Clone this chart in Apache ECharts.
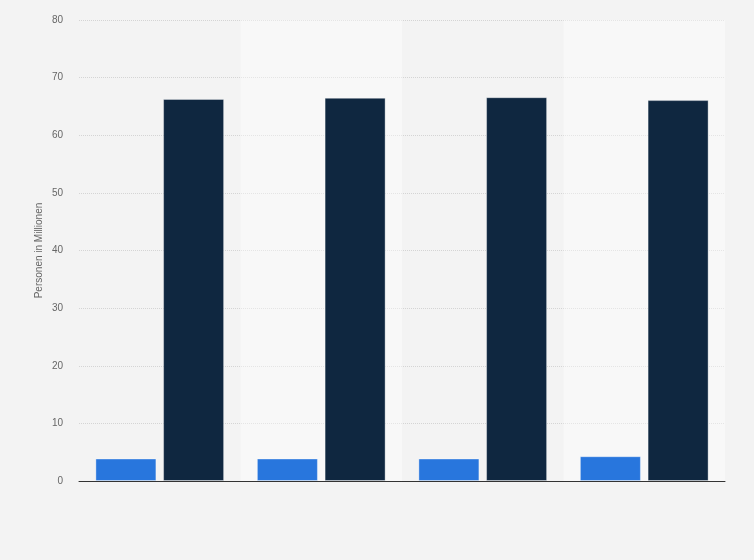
<!DOCTYPE html>
<html>
<head>
<meta charset="utf-8">
<script src="https://cdn.jsdelivr.net/npm/echarts@6/dist/echarts.min.js"></script>
<style>
  html, body { margin: 0; padding: 0; background: #f3f3f3; }
  #mainChart { width: 754px; height: 560px; }
</style>
</head>
<body>
<div id="mainChart"></div>
<script>
// categories have no visible labels in the picture
var categories = ['', ' ', '  ', '   '];
var smallSeries = [3.9, 3.9, 3.9, 4.3];
var bigSeries = [66.3, 66.5, 66.6, 66.1];
var yTicks = [0, 10, 20, 30, 40, 50, 60, 70, 80];

var myChart = echarts.init(document.getElementById('mainChart'));

var option = {
    backgroundColor: '#f3f3f3',
    animation: false,
    grid: { left: 79, right: 29, top: 20, bottom: 79 },
    xAxis: {
        type: 'category',
        data: categories,
        axisLine: { lineStyle: { color: '#333333', width: 1 } },
        axisTick: { show: false },
        axisLabel: { show: false },
        splitArea: {
            show: true,
            areaStyle: { color: ['rgba(255,255,255,0)', 'rgba(255,255,255,0.4)'] }
        }
    },
    yAxis: {
        type: 'value',
        min: yTicks[0],
        max: yTicks[yTicks.length - 1],
        interval: 10,
        name: 'Personen in Millionen',
        nameLocation: 'middle',
        nameGap: 35,
        nameMoveOverlap: false,
        nameTextStyle: { color: '#666666', fontSize: 10, fontFamily: 'Arial, Liberation Sans, sans-serif' },
        axisLine: { show: false },
        axisTick: { show: false },
        axisLabel: { color: '#666666', fontSize: 10, margin: 16, fontFamily: 'Arial, Liberation Sans, sans-serif' },
        splitLine: { lineStyle: { color: '#d4d4d4', type: 'dotted', width: 1 } }
    },
    series: [
        {
            name: 'series1', type: 'bar', data: smallSeries,
            barWidth: 61, barGap: '11%',
            itemStyle: { color: '#2876dd', borderColor: 'rgba(255,255,255,0.35)', borderWidth: 1 }
        },
        {
            name: 'series2', type: 'bar', data: bigSeries,
            barWidth: 61,
            itemStyle: { color: '#0f2740', borderColor: 'rgba(255,255,255,0.35)', borderWidth: 1 }
        }
    ]
};

myChart.setOption(option);
</script>
</body>
</html>
